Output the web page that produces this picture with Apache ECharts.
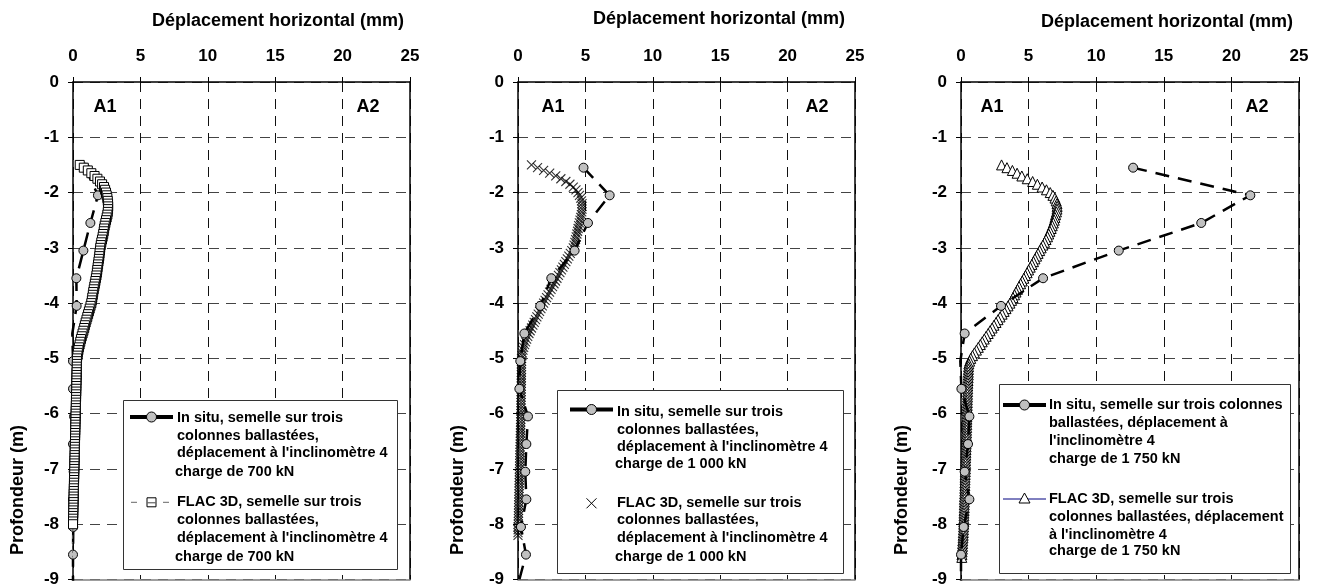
<!DOCTYPE html>
<html><head><meta charset="utf-8">
<script src="https://cdn.jsdelivr.net/npm/echarts@6/dist/echarts.min.js"></script>
<style>html,body{margin:0;padding:0;background:#fff}#c{width:1324px;height:588px}</style>
</head><body><div id="c"></div>
<script>
// ---------------- DATA ----------------
const xTicks = [0, 5, 10, 15, 20, 25];
const yTicks = [0, -1, -2, -3, -4, -5, -6, -7, -8, -9];
const xTitle = 'Déplacement horizontal (mm)';
const yTitle = 'Profondeur (m)';
const zoneLeft = 'A1';
const zoneRight = 'A2';

// in situ inclinometer depths (m)
const insituDepth = [-1.55, -2.05, -2.55, -3.05, -3.55, -4.05, -4.55, -5.05, -5.55, -6.05, -6.55, -7.05, -7.55, -8.05, -8.55, -9.05];
const insitu700  = [0.9, 1.85, 1.29, 0.77, 0.25, 0.27, -0.05, 0.0, 0.0, 0.08, 0.0, 0.05, 0.0, 0.02, 0.0, 0.0];
const insitu1000 = [4.86, 6.8, 5.19, 4.2, 2.47, 1.65, 0.47, 0.17, 0.1, 0.74, 0.62, 0.54, 0.62, 0.22, 0.59, 0.05];
const insitu1750 = [12.73, 21.4, 17.77, 11.67, 6.07, 2.96, 0.27, -0.05, 0.03, 0.62, 0.52, 0.27, 0.62, 0.2, 0.0, 0.0];

// FLAC 3D depths (m)
const flacDepth = [
  -1.50,-1.55,-1.60,-1.65,-1.70,-1.75,-1.80,-1.85,-1.90,-1.95,
  -2.00,-2.05,-2.10,-2.15,-2.20,-2.25,-2.30,-2.35,-2.40,-2.45,
  -2.50,-2.55,-2.60,-2.65,-2.70,-2.75,-2.80,-2.85,-2.90,-2.95,
  -3.00,-3.05,-3.10,-3.15,-3.20,-3.25,-3.30,-3.35,-3.40,-3.45,
  -3.50,-3.55,-3.60,-3.65,-3.70,-3.75,-3.80,-3.85,-3.90,-3.95,
  -4.00,-4.05,-4.10,-4.15,-4.20,-4.25,-4.30,-4.35,-4.40,-4.45,
  -4.50,-4.55,-4.60,-4.65,-4.70,-4.75,-4.80,-4.85,-4.90,-4.95,
  -5.00,-5.05,-5.10,-5.15,-5.20,-5.25,-5.30,-5.35,-5.40,-5.45,
  -5.50,-5.55,-5.60,-5.65,-5.70,-5.75,-5.80,-5.85,-5.90,-5.95,
  -6.00,-6.05,-6.10,-6.15,-6.20,-6.25,-6.30,-6.35,-6.40,-6.45,
  -6.50,-6.55,-6.60,-6.65,-6.70,-6.75,-6.80,-6.85,-6.90,-6.95,
  -7.00,-7.05,-7.10,-7.15,-7.20,-7.25,-7.30,-7.35,-7.40,-7.45,
  -7.50,-7.55,-7.60,-7.65,-7.70,-7.75,-7.80,-7.85,-7.90,-7.95,
  -8.00,-8.05,-8.10,-8.15,-8.20,-8.25,-8.30,-8.35,-8.40,-8.45,
  -8.50,-8.55,-8.60];
const flac700 = [
  0.50,0.80,1.10,1.36,1.60,1.81,2.00,2.16,2.30,2.38,
  2.45,2.50,2.55,2.58,2.60,2.61,2.60,2.58,2.55,2.50,
  2.45,2.40,2.35,2.31,2.28,2.24,2.20,2.15,2.10,2.06,
  2.02,2.00,1.97,1.95,1.92,1.89,1.86,1.83,1.80,1.77,
  1.74,1.70,1.66,1.62,1.58,1.54,1.50,1.47,1.43,1.40,
  1.36,1.30,1.24,1.18,1.12,1.06,1.00,0.94,0.88,0.83,
  0.77,0.71,0.65,0.59,0.54,0.49,0.44,0.40,0.36,0.33,
  0.30,0.29,0.29,0.28,0.28,0.27,0.27,0.26,0.26,0.25,
  0.25,0.24,0.24,0.23,0.23,0.22,0.22,0.21,0.21,0.20,
  0.20,0.19,0.19,0.18,0.18,0.17,0.17,0.16,0.16,0.15,
  0.15,0.14,0.14,0.13,0.13,0.12,0.12,0.11,0.11,0.10,
  0.10,0.09,0.09,0.08,0.08,0.07,0.07,0.06,0.06,0.05,
  0.05,0.04,0.04,0.03,0.03,0.02,0.02,0.01,0.01,0.00,
  0.00,-0.01,-0.01,-0.02,-0.02,-0.03,-0.03,-0.03,-0.04,-0.04,
  -0.04,-0.05,-0.05];
const flac1000 = [
  1.00,1.45,1.90,2.35,2.80,3.18,3.55,3.85,4.10,4.30,
  4.45,4.56,4.65,4.71,4.75,4.76,4.75,4.73,4.70,4.65,
  4.60,4.55,4.50,4.46,4.42,4.37,4.32,4.27,4.22,4.16,
  4.10,3.99,3.88,3.77,3.66,3.55,3.44,3.33,3.22,3.11,
  3.00,2.89,2.78,2.67,2.56,2.45,2.34,2.23,2.12,2.01,
  1.90,1.80,1.70,1.60,1.50,1.40,1.30,1.20,1.10,1.00,
  0.90,0.81,0.72,0.64,0.56,0.49,0.42,0.37,0.32,0.29,
  0.26,0.26,0.26,0.26,0.26,0.25,0.25,0.25,0.25,0.24,
  0.24,0.24,0.24,0.23,0.23,0.23,0.23,0.22,0.22,0.22,
  0.22,0.21,0.21,0.20,0.20,0.19,0.19,0.18,0.18,0.17,
  0.17,0.16,0.16,0.15,0.15,0.14,0.14,0.13,0.13,0.12,
  0.12,0.11,0.11,0.10,0.10,0.09,0.09,0.08,0.08,0.07,
  0.07,0.06,0.06,0.05,0.05,0.04,0.04,0.03,0.03,0.02,
  0.02,0.01,0.01,0.00,0.00,-0.01,-0.01,-0.02,-0.02,-0.03,
  -0.03,-0.04,-0.04];
const flac1750 = [
  3.00,3.40,3.80,4.15,4.50,4.90,5.30,5.65,6.00,6.32,
  6.60,6.80,6.95,7.04,7.10,7.11,7.10,7.06,7.00,6.95,
  6.90,6.83,6.75,6.67,6.58,6.49,6.40,6.29,6.18,6.06,
  5.93,5.82,5.70,5.59,5.47,5.36,5.24,5.12,5.00,4.89,
  4.77,4.65,4.53,4.41,4.29,4.18,4.07,3.96,3.85,3.74,
  3.62,3.48,3.33,3.19,3.04,2.89,2.74,2.59,2.44,2.30,
  2.15,2.01,1.86,1.72,1.57,1.43,1.28,1.14,0.99,0.85,
  0.72,0.64,0.58,0.56,0.55,0.54,0.54,0.53,0.52,0.51,
  0.50,0.50,0.49,0.48,0.48,0.47,0.47,0.46,0.46,0.45,
  0.45,0.44,0.44,0.43,0.43,0.42,0.41,0.41,0.40,0.40,
  0.39,0.38,0.38,0.37,0.36,0.36,0.35,0.34,0.34,0.33,
  0.33,0.32,0.31,0.30,0.30,0.29,0.29,0.28,0.28,0.27,
  0.26,0.25,0.25,0.24,0.24,0.23,0.22,0.22,0.21,0.21,
  0.20,0.19,0.18,0.17,0.16,0.15,0.13,0.12,0.11,0.10,
  0.08,0.07,0.06];

// legend texts
const legendInsitu700  = ["In situ, semelle sur trois", "colonnes ballastées,", "déplacement à l'inclinomètre 4", "charge de 700 kN"];
const legendFlac700    = ["FLAC 3D, semelle sur trois", "colonnes ballastées,", "déplacement à l'inclinomètre 4", "charge de 700 kN"];
const legendInsitu1000 = ["In situ, semelle sur trois", "colonnes ballastées,", "déplacement à l'inclinomètre 4", "charge de 1 000 kN"];
const legendFlac1000   = ["FLAC 3D, semelle sur trois", "colonnes ballastées,", "déplacement à l'inclinomètre 4", "charge de 1 000 kN"];
const legendInsitu1750 = ["In situ, semelle sur trois colonnes", "ballastées, déplacement à", "l'inclinomètre 4", "charge de 1 750 kN"];
const legendFlac1750   = ["FLAC 3D, semelle sur trois", "colonnes ballastées, déplacement", "à l'inclinomètre 4", "charge de 1 750 kN"];

// ---------------- LAYOUT / STYLE ----------------
const FONT = '"Liberation Sans", Arial, Helvetica, sans-serif';
const GRIDS = [
  {left: 73, top: 82, width: 337, height: 498},
  {left: 518, top: 82, width: 337, height: 498},
  {left: 961, top: 82, width: 338, height: 498}
];
const panels = [
  {insitu: insitu700, flac: flac700, flacKind: 'rect', legIn: legendInsitu700, legFl: legendFlac700,
   titleX: 152, titleY: 21, a1: 105, a2: 368, yLabX: 18,
   box: [123, 400, 274, 169], iconX: [130, 173], textX: 177,
   e1: {iy: 417, ys: [417.7, 435.7, 453.3, 471.7]}, e2: {iy: 502.3, ys: [502.3, 520, 538.3, 556.7]}, insituOnTop: false},
  {insitu: insitu1000, flac: flac1000, flacKind: 'cross', legIn: legendInsitu1000, legFl: legendFlac1000,
   titleX: 593, titleY: 19.5, a1: 553, a2: 817, yLabX: 458,
   box: [557, 390, 286, 183], iconX: [570, 613], textX: 617,
   e1: {iy: 409.5, ys: [411.7, 430, 446.7, 464]}, e2: {iy: 503.3, ys: [503.3, 520, 538.3, 556.7]}, insituOnTop: true},
  {insitu: insitu1750, flac: flac1750, flacKind: 'triangle', legIn: legendInsitu1750, legFl: legendFlac1750,
   titleX: 1041, titleY: 22.5, a1: 992, a2: 1257, yLabX: 902,
   box: [999, 384, 291, 189], iconX: [1003, 1046], textX: 1049,
   e1: {iy: 405, ys: [405, 423.3, 440.7, 459]}, e2: {iy: 499, ys: [499.3, 516.7, 535, 551]}, insituOnTop: true}
];

const xAxes = [], yAxes = [], series = [], graphics = [];
const zip = (ds, vs) => ds.map((d, i) => [vs[i], d]);

GRIDS.forEach((g, i) => {
  xAxes[i] = {
    gridIndex: i, type: 'value', position: 'top',
    min: xTicks[0], max: xTicks[xTicks.length - 1], interval: xTicks[1] - xTicks[0],
    axisLine: {show: true, onZero: false, lineStyle: {color: '#000', width: 1.5}},
    axisTick: {show: true, length: 5, lineStyle: {color: '#000'}},
    axisLabel: {color: '#000', fontSize: 17, fontWeight: 'bold', fontFamily: FONT, margin: 17},
    splitLine: {show: true, lineStyle: {color: '#111', width: 1, type: [10, 7]}}
  };
  xAxes[i + 3] = {
    gridIndex: i, type: 'value', position: 'bottom', min: 0, max: 25,
    axisLine: {show: true, onZero: false, lineStyle: {color: '#808080', width: 1.5}},
    axisTick: {show: false}, axisLabel: {show: false}, splitLine: {show: false}
  };
  yAxes[i] = {
    gridIndex: i, type: 'value', position: 'left',
    min: yTicks[yTicks.length - 1], max: yTicks[0], interval: 1,
    axisLine: {show: true, onZero: false, lineStyle: {color: '#000', width: 1.5}},
    axisTick: {show: true, length: 5, lineStyle: {color: '#000'}},
    axisLabel: {color: '#000', fontSize: 17, fontWeight: 'bold', fontFamily: FONT, margin: 14},
    splitLine: {show: true, lineStyle: {color: '#444', width: 1, type: [10, 7]}}
  };
  yAxes[i + 3] = {
    gridIndex: i, type: 'value', position: 'right', min: -9, max: 0,
    axisLine: {show: true, onZero: false, lineStyle: {color: '#000', width: 1.5}},
    axisTick: {show: false}, axisLabel: {show: false}, splitLine: {show: false}
  };
});

const crossPath = 'path://M0,0L10,10M10,0L0,10';

panels.forEach((p, i) => {
  let flacSeries;
  if (p.flacKind === 'rect') {
    flacSeries = {type: 'line', xAxisIndex: i, yAxisIndex: i, data: zip(flacDepth, p.flac),
      symbol: 'rect', symbolSize: 9, showAllSymbol: true, z: 3,
      itemStyle: {color: '#fff', borderColor: '#000', borderWidth: 1},
      lineStyle: {color: '#666', width: 1, type: [4, 3]}};
  } else if (p.flacKind === 'cross') {
    flacSeries = {type: 'scatter', xAxisIndex: i, yAxisIndex: i, data: zip(flacDepth, p.flac),
      symbol: crossPath, symbolSize: 9, z: 2,
      itemStyle: {color: '#000', borderColor: '#000', borderWidth: 1.1}};
  } else {
    flacSeries = {type: 'line', xAxisIndex: i, yAxisIndex: i, data: zip(flacDepth, p.flac),
      symbol: 'triangle', symbolSize: 10, showAllSymbol: true, z: 2,
      itemStyle: {color: '#fff', borderColor: '#000', borderWidth: 1},
      lineStyle: {color: '#000080', width: 1}};
  }
  const inSeries = {type: 'line', xAxisIndex: i, yAxisIndex: i, data: zip(insituDepth, p.insitu),
    symbol: 'circle', symbolSize: 9, showAllSymbol: true, z: p.insituOnTop ? 3 : 2,
    itemStyle: {color: '#c0c0c0', borderColor: '#000', borderWidth: 1},
    lineStyle: {color: '#000', width: 2.5, type: [14, 9]}};
  if (p.insituOnTop) { series.push(flacSeries, inSeries); } else { series.push(inSeries, flacSeries); }

  // texts
  const txt = (x, y, s, size, align, extra) => Object.assign({type: 'text', x: x, y: y, z: 50,
    style: {text: s, fill: '#000', fontSize: size, fontWeight: 'bold', fontFamily: FONT,
      textAlign: align || 'left', textVerticalAlign: 'middle'}}, extra || {});
  graphics.push(txt(p.titleX, p.titleY, xTitle, 18, 'left'));
  graphics.push(txt(p.a1, 107.5, zoneLeft, 18, 'center'));
  graphics.push(txt(p.a2, 107.5, zoneRight, 18, 'center'));
  graphics.push(txt(p.yLabX, 490, yTitle, 18, 'center', {rotation: Math.PI / 2}));

  // legend box
  graphics.push({type: 'rect', z: 40, shape: {x: p.box[0] + 0.5, y: p.box[1] + 0.5, width: p.box[2], height: p.box[3]},
    style: {fill: '#fff', stroke: '#333', lineWidth: 1}});
  const cx = (p.iconX[0] + p.iconX[1]) / 2;
  // entry 1: in situ icon
  graphics.push({type: 'line', z: 45, shape: {x1: p.iconX[0], y1: p.e1.iy, x2: p.iconX[1], y2: p.e1.iy},
    style: {stroke: '#000', lineWidth: 4}});
  graphics.push({type: 'circle', z: 46, shape: {cx: cx, cy: p.e1.iy, r: 5},
    style: {fill: '#c0c0c0', stroke: '#000', lineWidth: 1}});
  p.legIn.forEach((s, k) => graphics.push(txt(p.textX - (k === 3 && i < 2 ? 2 : 0), p.e1.ys[k], s, 14.5, 'left')));
  // entry 2: FLAC icon
  const y2 = p.e2.iy;
  if (p.flacKind === 'rect') {
    graphics.push({type: 'line', z: 45, shape: {x1: p.iconX[0] + 1, y1: y2, x2: p.iconX[1] - 4, y2: y2},
      style: {stroke: '#666', lineWidth: 1, lineDash: [6, 26]}});
    graphics.push({type: 'rect', z: 46, shape: {x: cx - 5 + 0.5, y: y2 - 5 + 0.5, width: 9, height: 9},
      style: {fill: '#fff', stroke: '#000', lineWidth: 1}});
    graphics.push({type: 'line', z: 47, shape: {x1: cx - 4, y1: y2 + 0.5, x2: cx + 4, y2: y2 + 0.5},
      style: {stroke: '#444', lineWidth: 1}});
  } else if (p.flacKind === 'cross') {
    graphics.push({type: 'line', z: 46, shape: {x1: cx - 5, y1: y2 - 5, x2: cx + 5, y2: y2 + 5}, style: {stroke: '#000', lineWidth: 1}});
    graphics.push({type: 'line', z: 46, shape: {x1: cx + 5, y1: y2 - 5, x2: cx - 5, y2: y2 + 5}, style: {stroke: '#000', lineWidth: 1}});
  } else {
    graphics.push({type: 'line', z: 45, shape: {x1: p.iconX[0], y1: y2, x2: p.iconX[1], y2: y2},
      style: {stroke: '#000080', lineWidth: 1}});
    graphics.push({type: 'polygon', z: 46, shape: {points: [[cx, y2 - 6], [cx + 5.5, y2 + 4], [cx - 5.5, y2 + 4]]},
      style: {fill: '#fff', stroke: '#000', lineWidth: 1}});
  }
  p.legFl.forEach((s, k) => graphics.push(txt(p.textX - (k === 3 && i < 2 ? 2 : 0), p.e2.ys[k], s, 14.5, 'left')));
});

const chart = echarts.init(document.getElementById('c'), null, {renderer: 'canvas'});
chart.setOption({
  animation: false,
  backgroundColor: '#fff',
  grid: GRIDS,
  xAxis: xAxes,
  yAxis: yAxes,
  series: series,
  graphic: {elements: graphics}
});
</script>
</body></html>
